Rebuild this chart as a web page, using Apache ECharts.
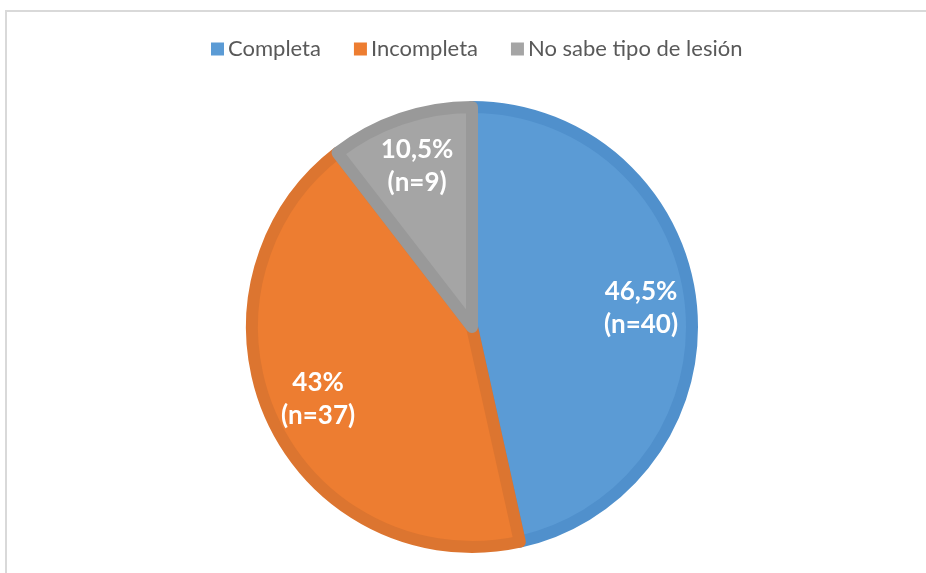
<!DOCTYPE html>
<html>
<head>
<meta charset="utf-8">
<script src="https://cdn.jsdelivr.net/npm/echarts@6/dist/echarts.min.js"></script>
<style>
  html, body { margin: 0; padding: 0; background: #fff; }
  #frame { position: absolute; left: 5px; top: 10px; width: 921px; height: 563px;
           border-left: 2px solid #d9d9d9; border-top: 2px solid #d9d9d9; }
  #chart { position: absolute; left: 0; top: 0; width: 926px; height: 573px; }
</style>
</head>
<body>
<div id="frame"></div>
<div id="chart"></div>
<script>
var categories = ['Completa', 'Incompleta', 'No sabe tipo de lesión'];
var counts = [40, 37, 9];
var percents = ['46,5%', '43%', '10,5%'];

var fillColors = ['#5b9bd5', '#ed7d31', '#a5a5a5'];
var edgeColors = ['#5090cc', '#dc7530', '#999999'];

var myChart = echarts.init(document.getElementById('chart'));

var pieData = categories.map(function (name, i) {
  return {
    name: name,
    value: counts[i],
    itemStyle: { color: fillColors[i], borderColor: edgeColors[i] }
  };
});

var labelData = categories.map(function (name, i) {
  return { name: name, value: counts[i] };
});

myChart.setOption({
  color: fillColors,
  legend: {
    top: 33,
    left: 206,
    itemWidth: 13,
    itemHeight: 13,
    itemGap: 33,
    itemStyle: { borderWidth: 0 },
    icon: 'rect',
    textStyle: { fontFamily: 'Lato', fontSize: 22, color: '#595959', padding: [0, 0, 0, -1] },
    data: categories
  },
  series: [
    {
      type: 'pie',
      center: [472, 327],
      radius: 220,
      startAngle: 90,
      clockwise: true,
      silent: true,
      itemStyle: { borderWidth: 12 },
      label: { show: false },
      labelLine: { show: false },
      data: pieData
    },
    {
      type: 'pie',
      center: [472, 327],
      radius: [108, 226],
      startAngle: 90,
      clockwise: true,
      silent: true,
      itemStyle: { color: 'rgba(0,0,0,0)', borderWidth: 0 },
      label: {
        show: true,
        position: 'inside',
        color: '#ffffff',
        fontFamily: 'Lato',
        fontWeight: 'bold',
        fontSize: 26,
        lineHeight: 33,
        formatter: function (p) {
          return percents[p.dataIndex] + '\n(n=' + counts[p.dataIndex] + ')';
        }
      },
      labelLine: { show: false },
      data: labelData
    }
  ]
});
</script>
</body>
</html>
